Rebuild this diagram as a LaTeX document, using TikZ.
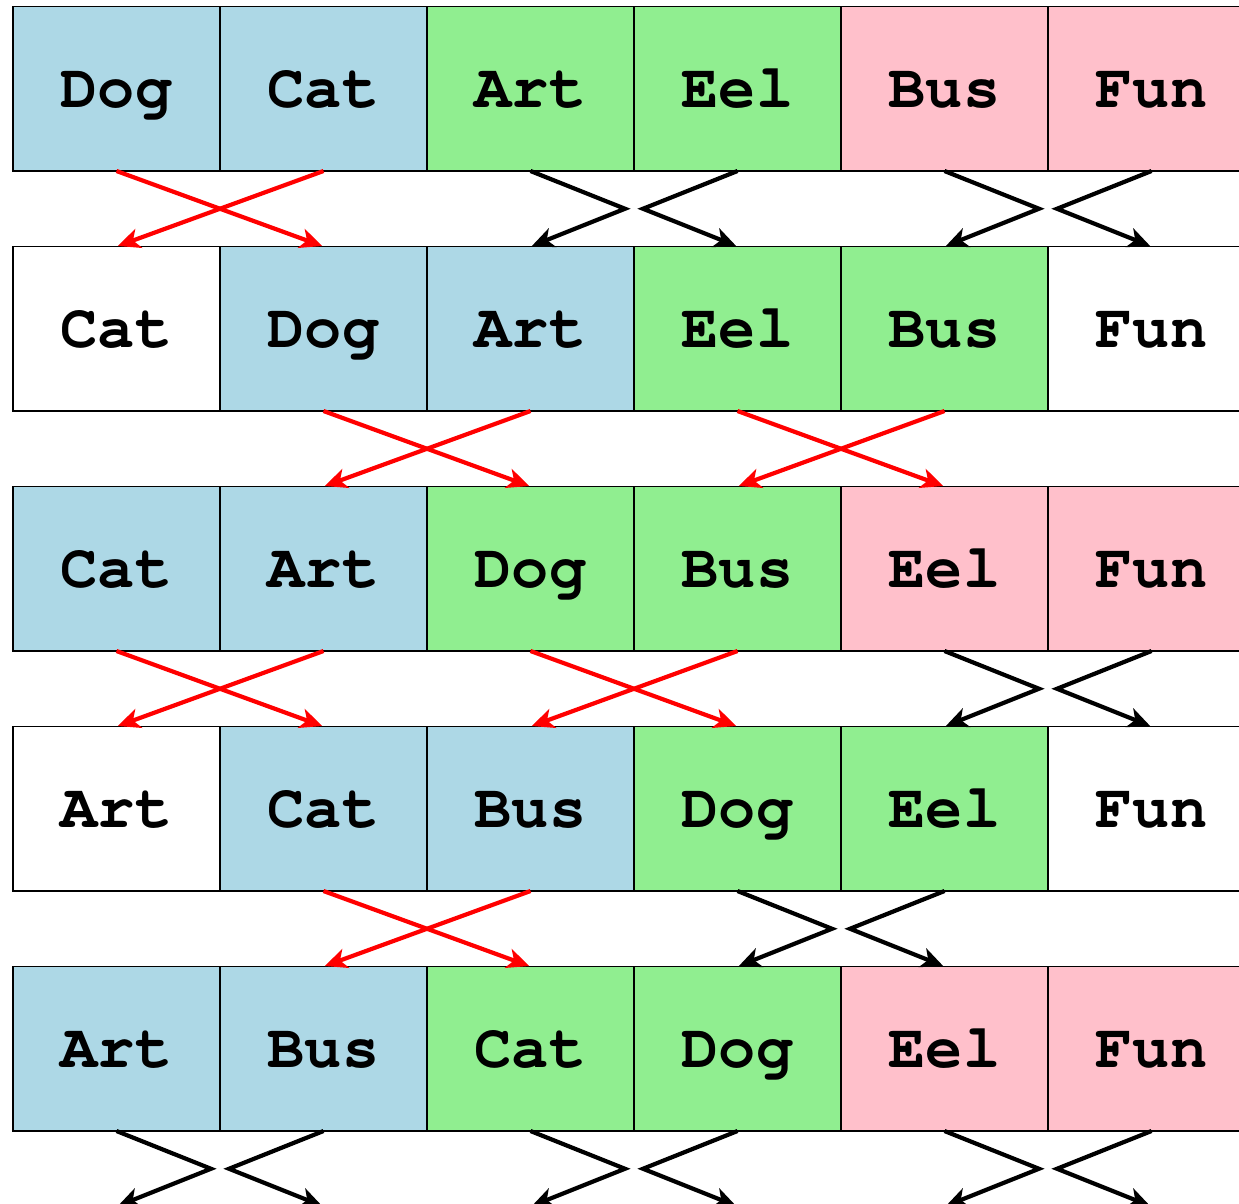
\documentclass[tikz,border=0pt]{standalone}
\usepackage{fontspec}
\setmonofont{TeX Gyre Cursor}
\usetikzlibrary{arrows.meta,calc}
\definecolor{cblue}{HTML}{ADD8E6}
\definecolor{cgreen}{HTML}{90EE90}
\definecolor{cpink}{HTML}{FFC0CB}
\tikzset{
  cell/.style={draw=black, line width=1.4pt, minimum width=207pt, minimum height=164.5pt,
    anchor=north west, outer sep=0pt, inner sep=0pt,
    font=\fontsize{62}{62}\selectfont\ttfamily\bfseries, text height=38pt, text depth=0pt},
  ghost/.style={minimum width=207pt, minimum height=164.5pt, anchor=north west, outer sep=0pt, inner sep=0pt},
  swaparrow/.style={red, line width=4.2pt, -{Stealth[length=22pt,width=20pt,inset=6pt]}, shorten >=1.5pt},
  keeparrow/.style={black, line width=4.2pt, line join=miter, -{Stealth[length=22pt,width=20pt,inset=6pt]}, shorten >=1.5pt}
}
\newcommand{\swapAr}[4]{%
  \draw[swaparrow] (r#1-#3.south) -- (r#2-#4.north);
  \draw[swaparrow] (r#1-#4.south) -- (r#2-#3.north);}
\newcommand{\keepAr}[4]{%
  \draw[keeparrow] (r#1-#3.south) -- ($(r#1-#3.south east)!0.5!(r#2-#3.north east)+(-9,0)$) -- (r#2-#3.north);
  \draw[keeparrow] (r#1-#4.south) -- ($(r#1-#4.south west)!0.5!(r#2-#4.north west)+(9,0)$) -- (r#2-#4.north);}
\begin{document}
\begin{tikzpicture}[x=1pt,y=-1pt]
\path[use as bounding box, clip] (0,0) rectangle (1239,1203);
% row 1
\foreach \t/\c [count=\i from 0] in {Dog/cblue,Cat/cblue,Art/cgreen,Eel/cgreen,Bus/cpink,Fun/cpink}
  {\node[cell, fill=\c] (r1-\i) at ({13+207*\i},6.5) {\t};}
% row 2
\foreach \t/\c [count=\i from 0] in {Cat/white,Dog/cblue,Art/cblue,Eel/cgreen,Bus/cgreen,Fun/white}
  {\node[cell, fill=\c] (r2-\i) at ({13+207*\i},246.5) {\t};}
% row 3
\foreach \t/\c [count=\i from 0] in {Cat/cblue,Art/cblue,Dog/cgreen,Bus/cgreen,Eel/cpink,Fun/cpink}
  {\node[cell, fill=\c] (r3-\i) at ({13+207*\i},486.5) {\t};}
% row 4
\foreach \t/\c [count=\i from 0] in {Art/white,Cat/cblue,Bus/cblue,Dog/cgreen,Eel/cgreen,Fun/white}
  {\node[cell, fill=\c] (r4-\i) at ({13+207*\i},726.5) {\t};}
% row 5
\foreach \t/\c [count=\i from 0] in {Art/cblue,Bus/cblue,Cat/cgreen,Dog/cgreen,Eel/cpink,Fun/cpink}
  {\node[cell, fill=\c] (r5-\i) at ({13+207*\i},966.5) {\t};}
% row 6 (off-page targets)
\foreach \i in {0,...,5}
  {\node[ghost] (r6-\i) at ({13+207*\i},1206.5) {};}
% transitions
\swapAr{1}{2}{0}{1}
\keepAr{1}{2}{2}{3}
\keepAr{1}{2}{4}{5}
\swapAr{2}{3}{1}{2}
\swapAr{2}{3}{3}{4}
\swapAr{3}{4}{0}{1}
\swapAr{3}{4}{2}{3}
\keepAr{3}{4}{4}{5}
\swapAr{4}{5}{1}{2}
\keepAr{4}{5}{3}{4}
\keepAr{5}{6}{0}{1}
\keepAr{5}{6}{2}{3}
\keepAr{5}{6}{4}{5}
\end{tikzpicture}
\end{document}
